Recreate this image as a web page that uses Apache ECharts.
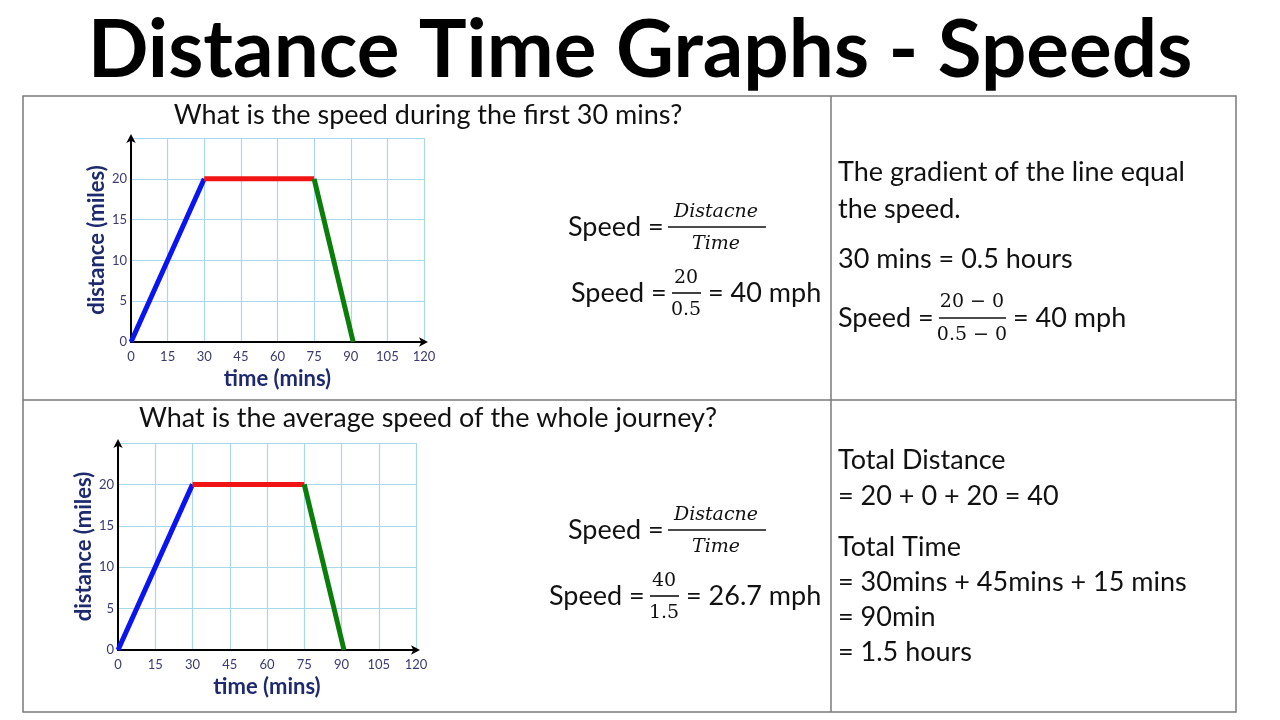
<!DOCTYPE html>
<html><head><meta charset="utf-8">
<script src="https://cdn.jsdelivr.net/npm/echarts@6/dist/echarts.min.js"></script>
<style>html,body{margin:0;padding:0;background:#fff}#c{width:1280px;height:720px}</style>
</head><body><div id="c"></div>
<script>
// ---- data ----
var xTicks = [0, 15, 30, 45, 60, 75, 90, 105, 120];
var yTicks = [0, 5, 10, 15, 20, 25];
var seg1 = [[0, 0], [30, 20]];     // blue: travelling
var seg2 = [[30, 20], [75, 20]];   // red: stationary
var seg3 = [[75, 20], [91, 0]];    // green: return
var segColors = ['#0a14f0', '#f01414', '#0a7d0a'];

var SANS = 'Lato';
var SERIF = 'DejaVu Serif';
var FS = 27;   // body text size
var FF = 19;   // fraction text size

var chart = echarts.init(document.getElementById('c'));

function txt(x, y, s, size, opt) {
  opt = opt || {};
  return {
    type: 'text', x: x, y: y, z: 10,
    style: {
      text: s, fontSize: size, fontFamily: opt.family || SANS,
      fontWeight: opt.weight || 'normal', fontStyle: opt.style || 'normal',
      fill: opt.color || '#111', align: opt.align || 'left', verticalAlign: 'middle'
    }
  };
}
function hline(x1, x2, y, w, c) {
  return { type: 'line', z: 10, shape: { x1: x1, y1: y, x2: x2, y2: y }, style: { stroke: c || '#111', lineWidth: w || 1.3 } };
}
function vline(x, y1, y2, w, c) {
  return { type: 'line', z: 10, shape: { x1: x, y1: y1, x2: x, y2: y2 }, style: { stroke: c || '#111', lineWidth: w || 1.3 } };
}

var tableC = '#7a7a7a';
var graphics = [
  txt(640, 51, 'Distance Time Graphs - Speeds', 80, { weight: 'bold', align: 'center', color: '#000' }),
  { type: 'rect', z: 5, shape: { x: 23, y: 96, width: 1213, height: 616 }, style: { fill: 'none', stroke: tableC, lineWidth: 1.5 } },
  vline(831, 96, 712, 1.5, tableC),
  hline(23, 1236, 400, 1.5, tableC),

  txt(428, 115, 'What is the speed during the first 30 mins?', FS, { align: 'center' }),
  txt(428, 418, 'What is the average speed of the whole journey?', FS, { align: 'center' }),

  // top middle formulas
  txt(568, 227, 'Speed =', FS),
  txt(716, 212, 'Distacne', FF, { family: SERIF, style: 'italic', align: 'center' }),
  hline(668, 766, 227, 1.6),
  txt(716, 244, 'Time', FF, { family: SERIF, style: 'italic', align: 'center' }),
  txt(571, 293, 'Speed =', FS),
  txt(686, 278, '20', FF, { family: SERIF, align: 'center' }),
  hline(672, 701, 293, 1.6),
  txt(686, 310, '0.5', FF, { family: SERIF, align: 'center' }),
  txt(708, 293, '= 40 mph', FS),

  // top right
  txt(838, 172, 'The gradient of the line equal', FS),
  txt(838, 209, 'the speed.', FS),
  txt(838, 259, '30 mins = 0.5 hours', FS),
  txt(838, 318, 'Speed =', FS),
  txt(972, 302, '20 \u2212 0', FF, { family: SERIF, align: 'center' }),
  hline(939, 1006, 318, 1.6),
  txt(972, 335, '0.5 \u2212 0', FF, { family: SERIF, align: 'center' }),
  txt(1013, 318, '= 40 mph', FS),

  // bottom middle
  txt(568, 530, 'Speed =', FS),
  txt(716, 515, 'Distacne', FF, { family: SERIF, style: 'italic', align: 'center' }),
  hline(668, 766, 530, 1.6),
  txt(716, 547, 'Time', FF, { family: SERIF, style: 'italic', align: 'center' }),
  txt(549, 596, 'Speed =', FS),
  txt(664, 581, '40', FF, { family: SERIF, align: 'center' }),
  hline(650, 679, 596, 1.6),
  txt(664, 613, '1.5', FF, { family: SERIF, align: 'center' }),
  txt(686, 596, '= 26.7 mph', FS),

  // bottom right
  txt(838, 460, 'Total Distance', FS),
  txt(838, 496, '= 20 + 0 + 20 = 40', FS),
  txt(838, 547, 'Total Time', FS),
  txt(838, 582, '= 30mins + 45mins + 15 mins', FS),
  txt(838, 617, '= 90min', FS),
  txt(838, 652, '= 1.5 hours', FS)
];

var navy = '#1e2a6e';
function xAx(idx) {
  return {
    type: 'value', gridIndex: idx, min: xTicks[0], max: xTicks[xTicks.length - 1],
    interval: xTicks[1] - xTicks[0],
    name: 'time (mins)', nameLocation: 'middle', nameGap: 26,
    nameTextStyle: { fontFamily: SANS, fontWeight: 'bold', fontSize: 22, color: navy },
    axisLine: { show: true, lineStyle: { color: '#000', width: 2 }, symbol: ['none', 'arrow'], symbolSize: [7, 9], symbolOffset: [0, 4] },
    axisTick: { show: false },
    axisLabel: { fontFamily: SANS, fontSize: 13, color: '#3a3a70', margin: 8 },
    splitLine: { show: true, lineStyle: { color: '#a9d8ea', width: 1.2 } }
  };
}
function yAx(idx) {
  return {
    type: 'value', gridIndex: idx, min: yTicks[0], max: yTicks[yTicks.length - 1],
    interval: yTicks[1] - yTicks[0],
    name: 'distance (miles)', nameLocation: 'middle', nameGap: 22,
    nameTextStyle: { fontFamily: SANS, fontWeight: 'bold', fontSize: 22, color: navy },
    axisLine: { show: true, lineStyle: { color: '#000', width: 2 }, symbol: ['none', 'arrow'], symbolSize: [7, 9], symbolOffset: [0, 4] },
    axisTick: { show: false },
    axisLabel: { fontFamily: SANS, fontSize: 13, color: '#3a3a70', margin: 4,
      formatter: function (v) { return v === yTicks[yTicks.length - 1] ? '' : String(v); } },
    splitLine: { show: true, lineStyle: { color: '#a9d8ea', width: 1.2 } }
  };
}
function segSeries(idx) {
  return [seg1, seg2, seg3].map(function (d, i) {
    return {
      type: 'line', xAxisIndex: idx, yAxisIndex: idx, data: d, symbol: 'none', silent: true,
      lineStyle: { color: segColors[i], width: 5, cap: 'butt' }, z: 5
    };
  });
}

chart.setOption({
  animation: false,
  backgroundColor: '#fff',
  grid: [
    { left: 131, top: 138, width: 293, height: 204 },
    { left: 118, top: 443, width: 298, height: 207 }
  ],
  xAxis: [xAx(0), xAx(1)],
  yAxis: [yAx(0), yAx(1)],
  series: segSeries(0).concat(segSeries(1)),
  graphic: graphics
});
</script></body></html>
